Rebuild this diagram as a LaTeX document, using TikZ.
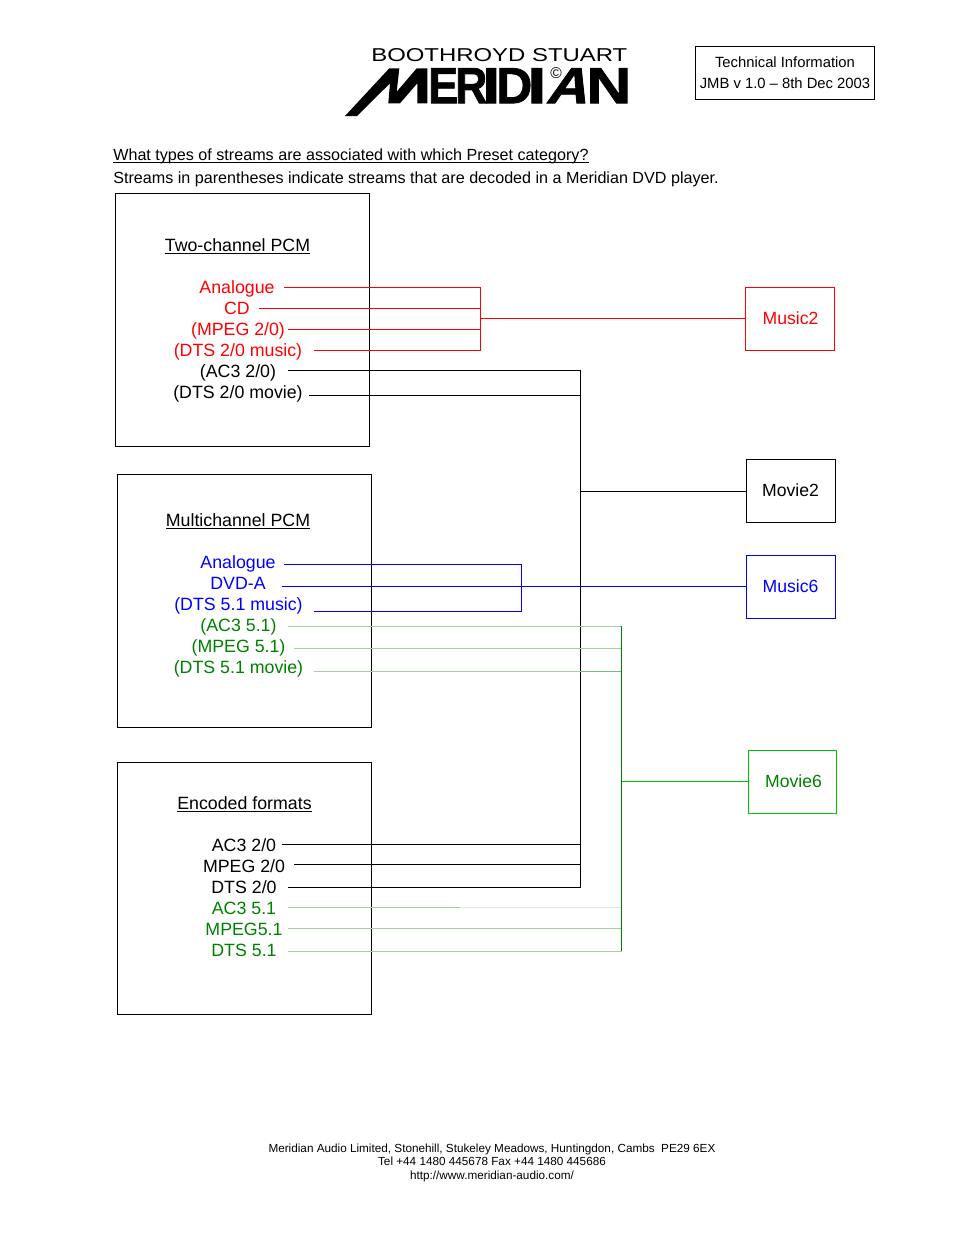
\documentclass[tikz,border=0pt]{standalone}
\usepackage{fontspec}
\usepackage{graphicx}
\setmainfont{Liberation Sans}
\newfontfamily\logofont[UprightFont={* Bold},UprightFeatures={FakeBold=1.5}]{Liberation Sans}
\newlength\px \setlength\px{0.6415pt}
\definecolor{gtext}{RGB}{0,128,0}
\definecolor{gpale}{RGB}{160,210,160}
\definecolor{gfaint}{RGB}{218,238,218}
\definecolor{gmid}{RGB}{120,190,120}
\definecolor{gbright}{RGB}{0,190,0}
\newcommand\ulx[1]{\setbox0\hbox{#1}\rlap{\rule[-1.5pt]{\wd0}{0.5pt}}#1}
\newcommand\shifted[3]{\hspace*{#1\px}\raisebox{#2\px}{#3}}
\tikzset{
  lbl/.style={anchor=base,inner sep=0pt,font=\fontsize{11.4}{14}\selectfont},
  small/.style={anchor=base,inner sep=0pt,font=\fontsize{7.53}{9}\selectfont},
  med/.style={anchor=base,inner sep=0pt,font=\fontsize{9.5}{12}\selectfont},
  head/.style={anchor=base west,inner sep=0pt,font=\fontsize{10.35}{13}\selectfont},
  panel/.style={draw=black,line width=0.5pt,inner sep=0pt,minimum width=254\px,minimum height=253\px},
  target/.style={draw,line width=0.5pt,inner sep=0pt,minimum width=89\px,minimum height=63\px,font=\fontsize{11.3}{14}\selectfont},
  wire/.style={line width=0.5pt},
  logo/.style={anchor=south west,inner sep=0pt,font=\logofont},
}
\begin{document}
\begin{tikzpicture}[x=\px,y=-\px]
\useasboundingbox (0,0) rectangle (954,1235);
% logo
\fill[black] (345,116)--(389.3,68.3)--(399.3,68.3)--(396.7,91.7)--(416.7,68.3)--(427.3,68.3)--(427.3,103.3)--(417.3,103.3)--(417.3,83.3)--(400,103.3)--(388.3,103.3)--(390,83.3)--(357,116)--cycle;
\node[anchor=south west,inner sep=0pt] (lgtop) at (371,62) {\resizebox{256\px}{13\px}{BOOTHROYD STUART}};
\node[logo] (lgE) at (428,103.5) {\resizebox{30\px}{35\px}{E}};
\node[logo] (lgR) at (455,103.5) {\resizebox{32\px}{35\px}{R}};
\node[logo] (lgI) at (482,103.5) {\resizebox{18\px}{35\px}{I}};
\node[logo] (lgD) at (496,103.5) {\resizebox{36\px}{35\px}{D}};
\node[logo] (lgJ) at (527,103.5) {\resizebox{19\px}{35\px}{I}};
\begin{scope}[shift={(545,103.5)},xslant=0.3]
\node[logo,transform shape] (lgA) at (0,0) {\resizebox{41\px}{35\px}{A}};
\end{scope}
\node[logo] (lgN) at (586,103.5) {\resizebox{45\px}{35\px}{N}};
\node[inner sep=0pt,font=\fontsize{10}{10}\selectfont] (lgC) at (556,72.7) {©};
% info box
\node[draw,line width=0.5pt,inner sep=0pt,minimum width=179\px,minimum height=53\px] (info) at (784.5,72.5) {};
\node[med] (t1) at (785,67) {Technical Information};
\node[med] (t2) at (785,88) {JMB v 1.0 – 8th Dec 2003};
% headings
\node[head] (h1) at (113,160) {\ulx{What types of streams are associated with which Preset category?}};
\node[head] (h2) at (113,183) {Streams in parentheses indicate streams that are decoded in a Meridian DVD player.};
% panels
\node[panel] (pcm) at (242,319.5) {};
\node[panel] (multi) at (244,600.5) {};
\node[panel,minimum height=252\px] (enc) at (244,888) {};
\node[lbl] (ta) at (237.5,251.5) {\ulx{Two-channel PCM}};
\node[lbl] (tb) at (238,526.5) {\ulx{Multichannel PCM}};
\node[lbl] (tc) at (244.5,809.5) {\ulx{Encoded formats}};
% first panel labels
\node[lbl,red] (a1) at (237,293.5) {Analogue};
\node[lbl,red] (a2) at (237,314.5) {CD};
\node[lbl,red] (a3) at (238,335.5) {(MPEG 2/0)};
\node[lbl,red] (a4) at (238,356.5) {(DTS 2/0 music)};
\node[lbl] (a5) at (238,377.5) {(AC3 2/0)};
\node[lbl] (a6) at (238,398.5) {(DTS 2/0 movie)};
% second panel labels
\node[lbl,blue] (b1) at (238,568.5) {Analogue};
\node[lbl,blue] (b2) at (238,589.5) {DVD-A};
\node[lbl,blue] (b3) at (238.5,610.5) {(DTS 5.1 music)};
\node[lbl,gtext] (b4) at (238.5,631.5) {(AC3 5.1)};
\node[lbl,gtext] (b5) at (238.5,652.5) {(MPEG 5.1)};
\node[lbl,gtext] (b6) at (238.5,673.5) {(DTS 5.1 movie)};
% third panel labels
\node[lbl] (c1) at (244,851.5) {AC3 2/0};
\node[lbl] (c2) at (244,872.5) {MPEG 2/0};
\node[lbl] (c3) at (244,893.5) {DTS 2/0};
\node[lbl,gtext] (c4) at (244,914.5) {AC3 5.1};
\node[lbl,gtext] (c5) at (244,935.5) {MPEG5.1};
\node[lbl,gtext] (c6) at (244,956.5) {DTS 5.1};
% targets
\node[target,draw=red,text=red] (music2) at (789.5,318.5) {\shifted{2}{-1}{Music2}};
\node[target,draw=black] (movie2) at (790.5,490.5) {Movie2};
\node[target,draw=blue,text=blue] (music6) at (790.5,586.5) {Music6};
\node[target,draw=gbright,text=gtext,minimum width=88\px] (movie6) at (792,781.5) {\shifted{3}{1}{Movie6}};
% named line ends
\coordinate (sa1) at (284,287); \coordinate (sa2) at (259,308); \coordinate (sa3) at (288,329); \coordinate (sa4) at (314,350);
\coordinate (sa5) at (288,370); \coordinate (sa6) at (309,395);
\coordinate (sb1) at (284,564); \coordinate (sb2) at (282,586.5); \coordinate (sb3) at (314,611);
\coordinate (sb4) at (288,626); \coordinate (sb5) at (294,648); \coordinate (sb6) at (314,671);
\coordinate (sc1) at (282,844.5); \coordinate (sc2) at (294,864.5); \coordinate (sc3) at (288,887);
\coordinate (sc4) at (288,907.5); \coordinate (sc5) at (288,928.5); \coordinate (sc6) at (288,951);
\coordinate (redbus) at (480.5,318.5); \coordinate (blackbus) at (580.5,491); \coordinate (bluebus) at (521.5,586.5); \coordinate (greenbus) at (621.5,781.5);
% red
\draw[wire,red] (sa1) -| (redbus) (sa2) -| (redbus) (sa3) -| (redbus) (sa4) -| (redbus);
\draw[wire,red] (redbus) -- (music2.west);
% black
\draw[wire] (sa5) -| (blackbus) (sa6) -| (blackbus);
\draw[wire] (sc1) -| (blackbus) (sc2) -| (blackbus) (sc3) -| (blackbus);
\draw[wire] (blackbus) -- (blackbus-|movie2.west);
% blue
\draw[wire,blue] (sb1) -| (bluebus) (sb3) -| (bluebus);
\draw[wire,blue] (sb2) -- (music6.west);
% green
\draw[wire,gpale] (sb4) -- (sb4-|greenbus);
\draw[wire,gpale] (sb5) -- (sb5-|greenbus);
\draw[wire,gpale] (sb6) -- (sb6-|greenbus);
\draw[wire,gmid] (sb6-|blackbus) -- (sb6-|greenbus);
\draw[wire,gfaint] (sc4) -- (sc4-|greenbus);
\coordinate (sc4m) at (460,907.5);
\draw[wire,gpale] (sc4) -- (sc4m);
\draw[wire,gpale] (sc5) -- (sc5-|greenbus);
\draw[wire,gpale] (sc6) -- (sc6-|greenbus);
\draw[wire,gtext] (sb4-|greenbus) -- (sc6-|greenbus);
\draw[wire,gbright] (greenbus) -- (movie6.west);
% footer
\node[small] (f1) at (492,1152) {Meridian Audio Limited, Stonehill, Stukeley Meadows, Huntingdon, Cambs\ \ PE29 6EX};
\node[small] (f2) at (492,1165) {Tel +44 1480 445678 Fax +44 1480 445686};
\node[small] (f3) at (492,1179) {http://www.meridian-audio.com/};
\end{tikzpicture}
\end{document}
